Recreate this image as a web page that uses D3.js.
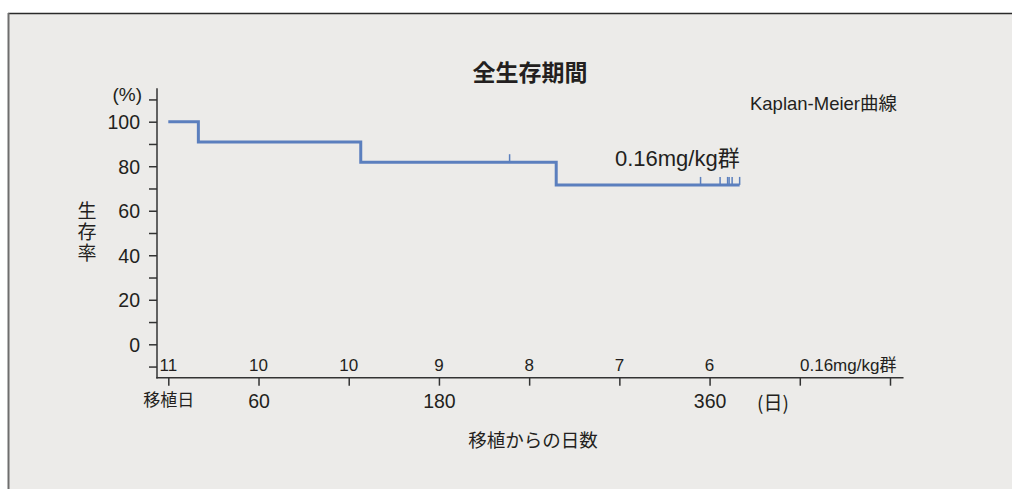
<!DOCTYPE html>
<html>
<head>
<meta charset="utf-8">
<script src="https://cdn.jsdelivr.net/npm/d3@7"></script>
<style>
  html, body { margin: 0; padding: 0; background: #ffffff; }
  svg { display: block; }
  text { font-family: "Liberation Sans", Arial, "Noto Sans CJK JP", sans-serif; fill: #231f20; }
  .cjk { font-family: "Noto Sans CJK JP", "Liberation Sans", sans-serif; }
</style>
</head>
<body>
<svg id="chart" width="1012" height="489"></svg>
<script>
// Kaplan-Meier step curve (days after transplant, survival %)
const stepDays = [0, 20, 128, 258];
const stepSurvival = [100, 90.9, 81.8, 71.6];
const lastFollowUpDay = 380;

// censored observations (days)
const censorDays = [227, 354, 367, 372, 373, 375, 380];

// numbers at risk
const atRiskDays = [0, 60, 120, 180, 240, 300, 360];
const atRiskCounts = [11, 10, 10, 9, 8, 7, 6];

// axis ticks
const xTickDays = [0, 60, 120, 180, 240, 300, 360, 420, 480];
const xLabelDays = [0, 60, 180, 360];
const xLabelTexts = ["移植日", "60", "180", "360"];
const yTickValues = [-10, 0, 10, 20, 30, 40, 50, 60, 70, 80, 90, 100, 110];
const yLabelValues = [0, 20, 40, 60, 80, 100];

const groupName = "0.16mg/kg群";

const svg = d3.select("#chart");
const W = 1012, H = 489;

// panel background and frame
svg.append("rect").attr("x", 8).attr("y", 13).attr("width", W - 8).attr("height", H - 13)
  .attr("fill", "#ecebe9");
svg.append("line").attr("x1", 8).attr("x2", W).attr("y1", 13.5).attr("y2", 13.5)
  .attr("stroke", "#2a2a2a").attr("stroke-width", 1.5);
svg.append("line").attr("x1", 8.5).attr("x2", 8.5).attr("y1", 13).attr("y2", H)
  .attr("stroke", "#6e6e6e").attr("stroke-width", 2);

const x = d3.scaleLinear().domain([0, 480]).range([168.3, 890]);
const y = d3.scaleLinear().domain([0, 100]).range([344.3, 121.7]);

const yAxisX = 157;
const xAxisY = y(-15);

// title
svg.append("text").attr("class", "cjk").attr("x", 530).attr("y", 81)
  .attr("text-anchor", "middle").attr("font-size", 23).attr("font-weight", "bold")
  .text("全生存期間");

svg.append("text").attr("x", 897).attr("y", 110).attr("text-anchor", "end")
  .attr("font-size", 18.5).text("Kaplan-Meier曲線");

// y axis
const yAxis = d3.axisLeft(y).tickValues(yTickValues).tickSize(8).tickPadding(9)
  .tickFormat(d => yLabelValues.includes(d) ? d : "");
const gy = svg.append("g").attr("transform", `translate(${yAxisX},0)`).call(yAxis);
gy.select(".domain").remove();
gy.selectAll(".tick line").attr("stroke", "#333").attr("stroke-width", 1.5);
gy.selectAll(".tick text").attr("font-size", 19.5).attr("dy", "0.36em")
  .style("font-family", "'Liberation Sans', Arial, sans-serif").attr("fill", "#231f20");
svg.append("line").attr("x1", yAxisX).attr("x2", yAxisX)
  .attr("y1", y(115)).attr("y2", xAxisY + 0.75)
  .attr("stroke", "#333").attr("stroke-width", 1.5);

svg.append("text").attr("x", 142).attr("y", 101).attr("text-anchor", "end")
  .attr("font-size", 19).text("(%)");

// vertical y title
svg.append("text").attr("class", "cjk")
  .attr("transform", "translate(87,233)")
  .attr("font-size", 19).attr("text-anchor", "middle")
  .style("writing-mode", "vertical-rl").style("text-orientation", "upright")
  .attr("letter-spacing", 2)
  .text("生存率");

// x axis
const xAxis = d3.axisBottom(x).tickValues(xTickDays).tickSize(8).tickPadding(8)
  .tickFormat(d => { const i = xLabelDays.indexOf(d); return i >= 0 ? xLabelTexts[i] : ""; });
const gx = svg.append("g").attr("transform", `translate(0,${xAxisY})`).call(xAxis);
gx.select(".domain").remove();
gx.selectAll(".tick line").attr("stroke", "#333").attr("stroke-width", 1.5);
gx.selectAll(".tick text").attr("fill", "#231f20")
  .attr("font-size", d => d === 0 ? 17 : 19.5)
  .style("font-family", d => d === 0 ? "'Noto Sans CJK JP', sans-serif" : "'Liberation Sans', Arial, sans-serif");
svg.append("line").attr("x1", yAxisX - 0.75).attr("x2", x(489))
  .attr("y1", xAxisY).attr("y2", xAxisY)
  .attr("stroke", "#333").attr("stroke-width", 1.5);

svg.append("text").attr("class", "cjk").attr("x", 773).attr("y", 410)
  .attr("text-anchor", "middle").attr("font-size", 19).text("(日)");

svg.append("text").attr("class", "cjk").attr("x", 533).attr("y", 447)
  .attr("text-anchor", "middle").attr("font-size", 18.5).text("移植からの日数");

// numbers at risk
svg.append("g").selectAll("text").data(atRiskDays).join("text")
  .attr("x", d => x(d)).attr("y", 371).attr("text-anchor", "middle")
  .attr("font-size", 17).text((d, i) => atRiskCounts[i]);
svg.append("text").attr("x", 800).attr("y", 371).attr("font-size", 17).text(groupName);

// survival curve
const pts = stepDays.map((d, i) => [d, stepSurvival[i]]);
pts.push([lastFollowUpDay, stepSurvival[stepSurvival.length - 1]]);
const line = d3.line().x(d => x(d[0])).y(d => y(d[1])).curve(d3.curveStepAfter);
const curveColor = "#5b7fbe";
svg.append("path").datum(pts).attr("d", line)
  .attr("fill", "none").attr("stroke", curveColor).attr("stroke-width", 3)
  .attr("stroke-linejoin", "miter").attr("stroke-linecap", "butt");

// censor marks
const survivalAt = d => { let s = stepSurvival[0]; stepDays.forEach((t, i) => { if (t <= d) s = stepSurvival[i]; }); return s; };
svg.append("g").selectAll("line").data(censorDays).join("line")
  .attr("x1", d => x(d)).attr("x2", d => x(d))
  .attr("y1", d => y(survivalAt(d))).attr("y2", d => y(survivalAt(d)) - 8)
  .attr("stroke", curveColor).attr("stroke-width", 1.5);

// group label on curve
svg.append("text").attr("x", x(lastFollowUpDay)).attr("y", 166).attr("text-anchor", "end")
  .attr("font-size", 22).text(groupName);
</script>
</body>
</html>
